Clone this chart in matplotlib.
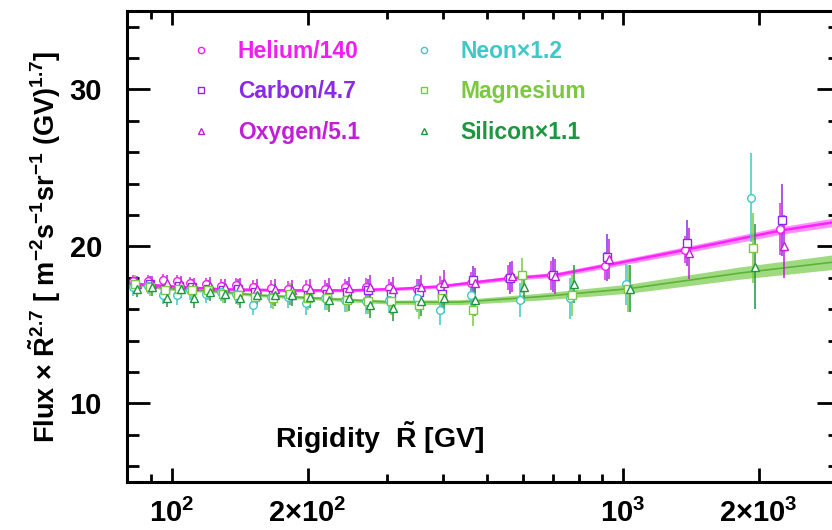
import matplotlib
matplotlib.use("Agg")
import matplotlib.pyplot as plt
from matplotlib.lines import Line2D
from matplotlib.ticker import FixedLocator, FixedFormatter, NullFormatter

plt.rcParams["font.family"] = ["Liberation Sans", "DejaVu Sans"]
plt.rcParams["font.weight"] = "bold"
plt.rcParams["mathtext.fontset"] = "custom"
plt.rcParams["mathtext.rm"] = "Liberation Sans:bold"
plt.rcParams["mathtext.it"] = "Liberation Sans:bold"
plt.rcParams["mathtext.bf"] = "Liberation Sans:bold"

# rigidity bin centres [GV]
rig_low = [83, 89.3, 96.5, 103.6, 111, 120, 129.7, 140, 153, 167.5, 183, 200,
           221, 244, 272, 306, 353, 398, 465]
rig_hco_high = [563, 700, 922, 1385, 2255]
rig_nemgsi_high = [598, 770, 1026, 1940]

# scaled flux x R^2.7
helium = [17.8, 17.8, 17.85, 17.8, 17.65, 17.6, 17.5, 17.55, 17.4, 17.35, 17.3, 17.35,
          17.3, 17.4, 17.4, 17.35, 17.3, 17.4, 17.65, 18.0, 18.15, 18.75, 19.8, 21.1]
helium_err = [0.4, 0.4, 0.4, 0.4, 0.4, 0.4, 0.45, 0.45, 0.45, 0.5, 0.5, 0.5,
              0.55, 0.55, 0.6, 0.6, 0.65, 0.7, 0.75, 0.8, 0.9, 0.9, 0.85, 1.65]
carbon = [17.5, 17.6, 17.3, 17.5, 17.4, 17.3, 17.2, 17.3, 17.1, 16.9, 16.9, 16.9,
          17.0, 17.1, 17.2, 17.0, 17.1, 17.0, 17.85, 18.0, 18.2, 19.3, 20.2, 21.7]
carbon_err = [0.5, 0.5, 0.5, 0.5, 0.5, 0.55, 0.55, 0.6, 0.6, 0.6, 0.65, 0.65,
              0.7, 0.7, 0.75, 0.75, 0.8, 0.85, 0.9, 1.0, 1.1, 1.5, 1.45, 2.3]
oxygen = [17.6, 17.6, 17.7, 17.6, 17.5, 17.5, 17.4, 17.4, 17.3, 17.3, 17.2, 17.3,
          17.3, 17.35, 17.4, 17.3, 17.4, 17.65, 17.7, 18.1, 18.1, 19.2, 19.55, 20.0]
oxygen_err = [0.5, 0.5, 0.5, 0.5, 0.5, 0.55, 0.55, 0.6, 0.6, 0.6, 0.65, 0.65,
              0.7, 0.7, 0.75, 0.75, 0.8, 0.85, 0.9, 1.0, 1.1, 1.3, 1.6, 2.0]
neon = [17.4, 17.5, 16.9, 16.9, 17.2, 17.0, 17.1, 17.0, 16.3, 16.8, 16.8, 16.4,
        16.7, 16.6, 16.5, 16.6, 16.7, 15.95, 16.9, 16.6, 16.7, 17.6, 23.1]
neon_err = [0.55, 0.55, 0.55, 0.6, 0.6, 0.6, 0.6, 0.65, 0.65, 0.7, 0.7, 0.75,
            0.75, 0.8, 0.8, 0.85, 0.9, 0.95, 1.0, 1.1, 1.3, 1.3, 2.85]
magnesium = [17.6, 17.4, 17.2, 17.3, 17.2, 17.2, 17.0, 16.9, 16.8, 16.7, 17.0, 16.7,
             16.7, 16.6, 16.5, 16.5, 16.3, 16.7, 15.95, 18.15, 16.9, 17.3, 19.9]
magnesium_err = [0.55, 0.55, 0.55, 0.6, 0.6, 0.6, 0.6, 0.65, 0.65, 0.7, 0.7, 0.75,
                 0.75, 0.8, 0.8, 0.85, 0.9, 0.95, 1.0, 1.1, 1.3, 1.5, 2.2]
silicon = [17.3, 17.4, 16.7, 17.3, 16.7, 17.1, 17.0, 16.7, 16.9, 16.9, 16.9, 16.8,
           16.6, 16.7, 16.25, 16.1, 16.5, 16.7, 16.6, 17.4, 17.6, 17.3, 18.7]
silicon_err = [0.55, 0.55, 0.55, 0.6, 0.6, 0.6, 0.6, 0.65, 0.65, 0.7, 0.7, 0.75,
               0.75, 0.8, 0.8, 0.85, 0.9, 0.95, 1.0, 1.0, 1.2, 1.5, 2.7]

# fitted spectra with their uncertainty bands
fit_rig_hco = [79.5, 100, 128, 183, 248, 320, 393, 465, 553, 715, 921, 1359, 2228, 3030]
fit_hco = [17.65, 17.45, 17.27, 17.2, 17.2, 17.3, 17.45, 17.7, 17.95, 18.2, 18.8,
           19.75, 21.0, 21.6]
fit_hco_band = [0.1, 0.1, 0.1, 0.1, 0.1, 0.1, 0.11, 0.12, 0.13, 0.15, 0.17,
                0.2, 0.24, 0.27]
fit_rig_nemgsi = [79.5, 96.5, 130, 154, 210, 305, 435, 655, 1025, 1815, 3030]
fit_nemgsi = [17.65, 17.33, 17.1, 16.9, 16.7, 16.45, 16.45, 16.8, 17.3, 18.3, 19.05]
fit_nemgsi_band = [0.1, 0.1, 0.1, 0.1, 0.11, 0.13, 0.16, 0.22, 0.29, 0.39, 0.47]

labels = ["Helium/140", "Carbon/4.7", "Oxygen/5.1", "Neon\u00d71.2", "Magnesium",
          "Silicon\u00d71.1"]
colors = ["#f01ef0", "#8a2ae6", "#c21ed8", "#3ec8c8", "#7cc83e", "#1e9640"]
markers = ["o", "s", "^", "o", "s", "^"]

fig = plt.figure(figsize=(8.32, 5.30), dpi=100)
ax = fig.add_axes([0.1526, 0.0906, 0.857, 0.889])

# fit bands and lines
ax.fill_between(fit_rig_nemgsi, [v - b for v, b in zip(fit_nemgsi, fit_nemgsi_band)],
                [v + b for v, b in zip(fit_nemgsi, fit_nemgsi_band)],
                color="#8fd46a", alpha=0.85, lw=0, zorder=1)
ax.plot(fit_rig_nemgsi, fit_nemgsi, color="#5cb43a", lw=1.2, zorder=2)
ax.fill_between(fit_rig_hco, [v - b for v, b in zip(fit_hco, fit_hco_band)],
                [v + b for v, b in zip(fit_hco, fit_hco_band)],
                color="#ff7cff", alpha=0.85, lw=0, zorder=1)
ax.plot(fit_rig_hco, fit_hco, color="#ff22ff", lw=1.8, zorder=2)

series = [
    (rig_low + rig_hco_high, helium, helium_err, 0.99),
    (rig_low + rig_hco_high, carbon, carbon_err, 1.0),
    (rig_low + rig_hco_high, oxygen, oxygen_err, 1.01),
    (rig_low + rig_nemgsi_high, neon, neon_err, 0.99),
    (rig_low + rig_nemgsi_high, magnesium, magnesium_err, 1.0),
    (rig_low + rig_nemgsi_high, silicon, silicon_err, 1.01),
]
for (x, y, e, shift), c, m in zip(series, colors, markers):
    ax.errorbar([xi * shift for xi in x], y, yerr=e, fmt=m, ms=5.5, mfc="white",
                mec=c, mew=1.0, ecolor=c, elinewidth=1.1, capsize=0, zorder=3)

ax.set_xscale("log")
ax.set_xlim(79.5, 3030)
ax.set_ylim(5, 35)

ax.xaxis.set_major_locator(FixedLocator([100, 200, 1000, 2000]))
ax.xaxis.set_major_formatter(FixedFormatter([r"$10^{2}$", r"$2{\times}10^{2}$",
                                             r"$10^{3}$", r"$2{\times}10^{3}$"]))
ax.xaxis.set_minor_locator(FixedLocator([90, 300, 400, 500, 600, 700, 800, 900]))
ax.xaxis.set_minor_formatter(NullFormatter())
ax.yaxis.set_major_locator(FixedLocator([10, 20, 30]))
ax.yaxis.set_minor_locator(FixedLocator(list(range(6, 35, 2))))

for s in ax.spines.values():
    s.set_linewidth(2.2)
ax.tick_params(which="both", direction="in", top=True, right=True, width=2.0,
               labelsize=21)
ax.tick_params(axis="y", which="major", length=16.5, pad=18)
ax.tick_params(axis="y", which="minor", length=8.5)
ax.tick_params(axis="x", which="major", length=10, pad=12)
ax.tick_params(axis="x", which="minor", length=6)

ax.set_ylabel(r"Flux $\times$ $\tilde{R}^{2.7}$ [ m$^{-2}$s$^{-1}$sr$^{-1}$ (GV)$^{1.7}$]",
              fontsize=19.5, fontweight="bold", labelpad=5)
ax.text(0.355, 0.095, r"Rigidity  $\tilde{R}$ [GV]", transform=ax.transAxes,
        ha="center", va="center", fontsize=20.5, fontweight="bold")

handles = [Line2D([], [], ls="none", marker=m, ms=4.5, mfc="white", mec=c, mew=1.0)
           for c, m in zip(colors, markers)]
leg = ax.legend(handles, labels, ncol=2, loc="upper left",
                bbox_to_anchor=(0.088, 0.938), frameon=False, borderpad=0,
                borderaxespad=0, handlelength=1.0, handletextpad=1.1,
                columnspacing=2.3, labelspacing=0.76,
                prop={"size": 16.5, "weight": "bold"})
for t, c in zip(leg.get_texts(), colors):
    t.set_color(c)

fig.savefig("out.png", dpi=100)
